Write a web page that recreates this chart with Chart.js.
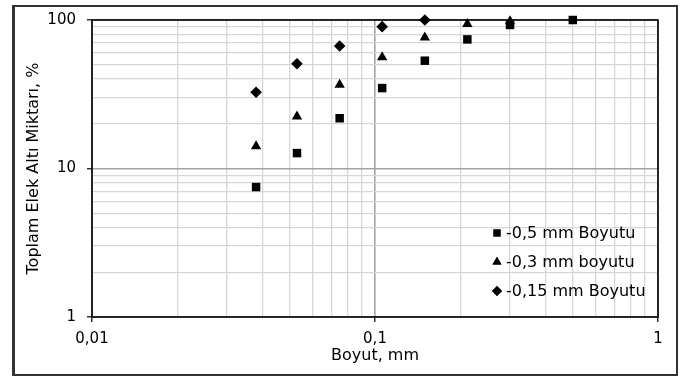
<!DOCTYPE html>
<html>
<head>
<meta charset="utf-8">
<script src="https://cdn.jsdelivr.net/npm/chart.js@4/dist/chart.umd.min.js"></script>
<style>
html,body{margin:0;padding:0;background:#fff;}
#wrap{width:683px;height:377px;position:relative;}
</style>
</head>
<body>
<div id="wrap"><canvas id="c" width="683" height="377"></canvas></div>
<script>
// ---- data ----
const sizes = [0.038, 0.053, 0.075, 0.106, 0.15, 0.212, 0.3, 0.5];
const series05 = [7.5, 12.7, 21.8, 34.8, 53.2, 74, 92.6, 100];
const series03 = [14.1, 22.4, 36.6, 56.2, 76.3, 94, 98];
const series015 = [32.6, 50.8, 66.8, 90.2, 100];
const seriesLabels = ['-0,5 mm Boyutu', '-0,3 mm boyutu', '-0,15 mm Boyutu'];
const xMajor = [0.01, 0.1, 1];
const xMajorLabels = ['0,01', '0,1', '1'];
const yMajor = [1, 10, 100];
const yMajorLabels = ['1', '10', '100'];
const xTitle = 'Boyut, mm';
const yTitle = 'Toplam Elek Altı Miktarı, %';

function pts(vals) { return vals.map((v, i) => ({x: sizes[i], y: v})); }
function decadeTicks(majors) {
  const out = [];
  for (let d = 0; d < majors.length - 1; d++) {
    for (let k = 1; k < 10; k++) out.push({value: majors[d] * k, major: k === 1});
  }
  out.push({value: majors[majors.length - 1], major: true});
  return out;
}
function isMajor(v, majors) { return majors.some(m => Math.abs(v - m) / m < 1e-6); }

const FONT = "'DejaVu Sans', sans-serif";

const framePlugin = {
  id: 'frame',
  beforeDraw(chart) {
    const ctx = chart.ctx;
    ctx.save();
    ctx.fillStyle = '#fff';
    ctx.fillRect(0, 0, chart.width, chart.height);
    ctx.strokeStyle = '#333';
    ctx.lineWidth = 2;
    ctx.strokeRect(14, 6, 663, 369);
    ctx.lineWidth = 1;
    ctx.beginPath(); ctx.moveTo(12.5, 5); ctx.lineTo(12.5, 376); ctx.stroke();
    ctx.restore();
  },
  beforeDatasetsDraw(chart) {
    const a = chart.chartArea, ctx = chart.ctx;
    ctx.save();
    ctx.strokeStyle = '#000';
    ctx.lineWidth = 1.6;
    ctx.strokeRect(a.left, a.top, a.right - a.left, a.bottom - a.top);
    ctx.restore();
  },
  afterDatasetsDraw(chart) {
    const ctx = chart.ctx;
    ctx.save();
    ctx.font = '16px ' + FONT;
    ctx.fillStyle = '#000';
    ctx.textBaseline = 'middle';
    ctx.textAlign = 'left';
    const rows = [233, 262, 291];
    chart.data.datasets.forEach((ds, i) => {
      Chart.helpers.drawPoint(ctx, {pointStyle: ds.pointStyle, radius: ds.legendRadius, rotation: 0, borderWidth: 0}, 497, rows[i]);
      ctx.fillStyle = '#000';
      ctx.fill();
      ctx.fillText(ds.label, 506, rows[i] + 1);
    });
    ctx.restore();
  }
};

const gridColor = (majors) => (c) => {
  if (!c.tick) return '#d4d4d4';
  return isMajor(c.tick.value, majors) ? '#a3a3a3' : '#d6d6d6';
};
const gridWidth = (majors) => (c) => (c.tick && isMajor(c.tick.value, majors)) ? 1.6 : 1.3;
const tickColor = (majors) => (c) => (c.tick && isMajor(c.tick.value, majors)) ? '#000' : 'rgba(0,0,0,0)';

new Chart(document.getElementById('c'), {
  type: 'scatter',
  data: {
    datasets: [
      {label: seriesLabels[0], data: pts(series05), pointStyle: 'rect', pointRadius: 6, legendRadius: 5,
       backgroundColor: '#000', borderColor: '#000', borderWidth: 0, clip: false},
      {label: seriesLabels[1], data: pts(series03), pointStyle: 'triangle', pointRadius: 6, legendRadius: 5.2,
       backgroundColor: '#000', borderColor: '#000', borderWidth: 0, clip: false},
      {label: seriesLabels[2], data: pts(series015), pointStyle: 'rectRot', pointRadius: 5.8, legendRadius: 5,
       backgroundColor: '#000', borderColor: '#000', borderWidth: 0, clip: false}
    ]
  },
  options: {
    responsive: false,
    animation: false,
    events: [],
    layout: {padding: {left: 0, right: 25, top: 16, bottom: 0}},
    plugins: {legend: {display: false}, tooltip: {enabled: false}},
    scales: {
      x: {
        type: 'logarithmic', min: 0.01, max: 1,
        afterBuildTicks(s) { s.ticks = decadeTicks(xMajor); },
        afterFit(s) { s.height = 60; },
        border: {display: false},
        grid: {color: gridColor(xMajor), lineWidth: gridWidth(xMajor), tickColor: tickColor(xMajor), tickLength: 5, tickWidth: 1.2},
        ticks: {
          autoSkip: false, maxRotation: 0, minRotation: 0, padding: 8, color: '#000',
          font: {family: FONT, size: 15},
          callback(v) { const i = xMajor.findIndex(m => Math.abs(v - m) / m < 1e-6); return i >= 0 ? xMajorLabels[i] : ''; }
        },
        title: {display: true, text: xTitle, color: '#000', font: {family: FONT, size: 16}, padding: {top: 12, bottom: 12}}
      },
      y: {
        type: 'logarithmic', min: 1, max: 100,
        afterBuildTicks(s) { s.ticks = decadeTicks(yMajor); },
        afterFit(s) { s.width = 92; },
        border: {display: false},
        grid: {color: gridColor(yMajor), lineWidth: gridWidth(yMajor), tickColor: tickColor(yMajor), tickLength: 5, tickWidth: 1.2},
        ticks: {
          autoSkip: false, padding: 11, color: '#000',
          font: {family: FONT, size: 15},
          callback(v) { const i = yMajor.findIndex(m => Math.abs(v - m) / m < 1e-6); return i >= 0 ? yMajorLabels[i] : ''; }
        },
        title: {display: true, text: yTitle, color: '#000', font: {family: FONT, size: 16}, padding: {top: 24, bottom: 24}}
      }
    }
  },
  plugins: [framePlugin]
});
</script>
</body>
</html>
